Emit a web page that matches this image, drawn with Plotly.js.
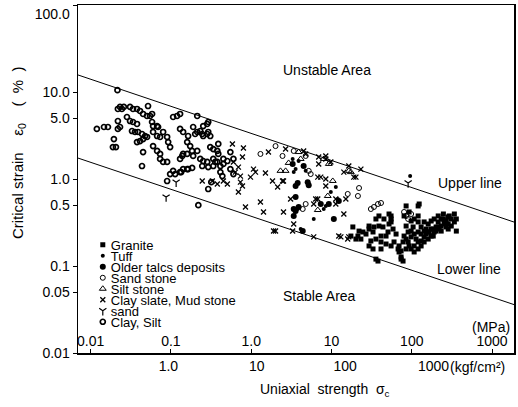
<!DOCTYPE html>
<html><head><meta charset="utf-8">
<script src="https://cdn.plot.ly/plotly-3.0.1.min.js"></script>
<style>html,body{margin:0;padding:0;background:#fff}#chart{width:518px;height:407px}</style>
</head><body><div id="chart"></div>
<script>
// ---- data (uniaxial strength in MPa, critical strain in %) ----
const KGF_PER_MPA = 10.197;

const graniteSigma = [11.4,13.7,14.8,14.1,15.6,18.3,20.3,20.8,21.9,23.7,21.9,25.0,21.9,23.1,28.5,30.0,30.8,32.5,30.8,35.1,39.0,40.0,42.2,44.4,40.0,44.4,45.6,48.1,50.7,54.8,48.1,54.8,59.3,65.8,65.8,48.1,27.0,32.5,23.7,19.2,25.0,32.5,42.2,65.8,71.1,76.9,85.5,92.4,100,111,120,130,144,156,169,178,169,144,127,111,92.4,85.5,76.9,71.1,65.8,59.3,54.8,52.0,50.7,65.8,76.9,85.5,92.4,100,67.6,54.8,59.3,71.1,59.3,65.8,111,127,148,81.1,87.7,97.5,105,114,137,76.9,120,130,178,18.3,20.3,26.3,32.5,45.6,52.0,42.2,18.3,25.0,81.1,97.5,105,120,137,156,144,62.4,71.1,57.7,48.1,37.0,28.5,34.2,16.9,12.0,13.0];
const graniteStrain = [0.221,0.221,0.204,0.252,0.246,0.288,0.246,0.281,0.347,0.376,0.204,0.189,0.120,0.114,0.221,0.246,0.304,0.347,0.396,0.189,0.157,0.145,0.127,0.114,0.170,0.189,0.221,0.204,0.246,0.252,0.288,0.329,0.347,0.376,0.490,0.490,0.347,0.321,0.288,0.194,0.157,0.170,0.149,0.246,0.233,0.252,0.246,0.266,0.246,0.281,0.288,0.304,0.304,0.288,0.321,0.347,0.396,0.366,0.347,0.321,0.221,0.204,0.189,0.170,0.157,0.145,0.157,0.170,0.189,0.321,0.321,0.304,0.329,0.347,0.516,0.216,0.233,0.281,0.170,0.189,0.376,0.396,0.376,0.266,0.246,0.266,0.281,0.266,0.281,0.216,0.347,0.329,0.252,0.170,0.157,0.281,0.376,0.376,0.418,0.120,0.266,0.221,0.233,0.221,0.252,0.252,0.329,0.347,0.266,0.204,0.194,0.281,0.157,0.233,0.179,0.266,0.233,0.281,0.204];

const tuffSigma  = [2.50,2.92,3.25,2.70,3.51,2.57,6.76,8.11,2.85,4.33,5.62,5.93,53.4,3.08,7.70];
const tuffStrain = [1.70,1.61,1.41,1.30,1.24,1.20,0.71,0.589,0.452,0.347,0.452,0.49,1.08,0.266,0.81];

const talcSigma  = [3.70,3.80,2.70,2.85,8.32,2.70,2.57,2.92,7.31,6.41,5.20,3.25,2.57,2.70,2.50,3.33];
const talcStrain = [0.92,0.85,0.83,0.90,0.56,0.43,0.376,0.477,0.347,0.516,0.516,0.252,0.452,0.62,1.49,1.41];

const sandstoneSigma  = [1.08,1.60,1.92,2.57,3.51,3.80,4.00,10.5,13.7,14.1,3.25,3.51,19.2,20.8,23.1,25.0,45.6,48.1,50.7,54.8];
const sandstoneStrain = [1.94,2.39,1.84,2.10,1.84,1.24,1.14,0.673,0.638,0.788,0.452,0.516,0.452,0.477,0.516,0.530,0.418,0.376,0.347,0.396];

const siltstoneSigma  = [2.92,5.62,6.41,11.4,7.11,6.24,4.81,1.82,2.08,2.25,3.08,10.8];
const siltstoneStrain = [2.04,1.70,1.49,1.20,0.95,0.638,0.44,1.24,1.24,1.53,1.70,1.24];

const claySlateSigma  = [0.520,0.693,0.676,0.534,0.608,0.562,0.641,0.237,0.308,0.351,0.411,0.456,0.641,0.676,0.833,0.608,0.901,0.949,1.08,1.23,1.33,1.48,1.69,1.92,0.731,1.17,1.60,2.57,4.33,8.78,4.81,7.70,9.49,5.93,4.93,9.49,12.3,3.33,3.51,4.93,5.93,6.76,13.0,10.8,14.8,4.81,5.20,5.93,1.97,2.37,4.56,10.0,7.70,4.33,1.97,2.50,8.32,10.8,1.52,10.5,2.08,5.93];
const claySlateStrain = [2.53,2.27,1.79,1.57,1.37,1.20,1.08,0.948,0.948,0.876,0.948,0.876,0.92,0.83,1.05,0.71,1.30,1.20,0.544,1.17,2.04,0.948,0.81,0.948,0.477,0.418,0.252,0.304,0.216,0.216,0.589,0.589,0.396,1.0,1.79,1.20,1.05,2.10,1.94,1.49,1.70,1.57,1.05,1.41,1.30,1.05,1.05,0.83,0.948,0.589,0.589,0.589,0.516,0.516,0.418,0.252,0.221,0.216,0.252,0.204,2.21,1.84];

const sandSigma  = [0.120,0.0924,50.7];
const sandStrain = [0.92,0.62,0.90];

const claySiltSigma  = [0.026,0.0152,0.0183,0.0203,0.0231,0.0250,0.0237,0.0263,0.0278,0.0292,0.0307,0.0263,0.0263,0.0278,0.0361,0.039,0.0433,0.0468,0.0333,0.0361,0.039,0.0433,0.038,0.0411,0.0444,0.0493,0.0534,0.0433,0.0468,0.0507,0.0562,0.0577,0.0507,0.0562,0.0608,0.0641,0.0641,0.0658,0.0731,0.075,0.0658,0.0731,0.079,0.0507,0.0493,0.0658,0.0731,0.079,0.0855,0.0949,0.0975,0.1026,0.079,0.0855,0.0949,0.111,0.123,0.133,0.144,0.141,0.144,0.133,0.1026,0.111,0.133,0.160,0.182,0.0949,0.160,0.173,0.182,0.160,0.187,0.208,0.187,0.208,0.225,0.237,0.243,0.270,0.277,0.292,0.270,0.277,0.225,0.243,0.270,0.292,0.316,0.351,0.360,0.277,0.316,0.351,0.380,0.411,0.214,0.360,0.493,0.534,0.411,0.456,0.117,0.137,0.277,0.300,0.197,0.243,0.208,0.316,0.333,0.380,0.40,0.237,0.144,0.164,0.493,0.534,0.164,0.133];
const claySiltStrain = [10.5,3.76,3.96,3.96,2.33,2.33,2.88,6.38,6.73,6.38,6.73,4.64,3.76,3.96,6.73,6.38,6.38,6.05,5.16,4.64,4.52,4.29,3.56,3.47,3.47,3.29,3.12,2.66,2.73,2.88,3.04,6.9,5.59,5.3,5.3,5.59,4.52,4.06,4.06,3.96,3.47,3.12,3.04,2.04,1.41,2.39,2.10,1.94,3.47,3.04,2.66,2.33,1.70,1.57,1.57,5.16,5.3,3.76,3.47,1.84,1.94,1.70,1.14,1.24,1.20,1.30,1.34,0.948,2.66,2.39,2.10,1.94,1.84,5.3,3.96,3.47,3.56,3.29,3.12,3.29,3.47,3.12,4.29,4.52,1.70,1.61,1.57,2.33,2.21,2.10,1.94,1.37,1.41,1.57,1.41,1.49,0.50,2.53,1.30,1.14,1.70,1.61,1.14,1.20,0.767,0.92,3.29,4.06,2.10,1.70,1.57,1.20,1.08,1.41,1.30,1.30,2.04,1.70,3.12,5.59];

// boundary lines (end points)
const lineSigma   = [0.0093, 800];
const upperStrain = [15.7, 0.32];
const lowerStrain = [1.74, 0.036];

// tick labels
const strainTicks    = [100, 10, 5, 1, 0.5, 0.1, 0.05, 0.01];
const strainTickText = ['<br>100.0','10.0','5.0','1.0','0.5','0.1','0.05','0.01'];
const kgfTicks       = [1, 10, 100, 1000];
const kgfTickText    = ['1.0','10','100','1000'];
const mpaTicks       = [0.01, 0.1, 1, 10, 100, 1000];
const mpaTickText    = ['0.01','0.1','1.0','10','100','1000'];

const seriesNames = ['Granite','Tuff','Older talcs deposits','Sand stone','Silt stone','Clay slate, Mud stone','sand','Clay, Silt'];

// ---- chart ----
const FONT = '"Liberation Sans", Arial, sans-serif';
const BLACK = '#000';
function pts(name, xs, ys, marker){
  return {type:'scatter', mode:'markers', name, x:xs, y:ys, xaxis:'x', yaxis:'y',
          marker:Object.assign({color:BLACK}, marker), cliponaxis:true};
}
const data = [
  pts(seriesNames[0], graniteSigma, graniteStrain, {symbol:'square', size:5}),
  pts(seriesNames[1], tuffSigma, tuffStrain, {symbol:'circle', size:4}),
  pts(seriesNames[2], talcSigma, talcStrain, {symbol:'circle', size:6}),
  pts(seriesNames[3], sandstoneSigma, sandstoneStrain, {symbol:'circle-open', size:5, line:{width:1, color:BLACK}}),
  pts(seriesNames[4], siltstoneSigma, siltstoneStrain, {symbol:'triangle-up-open', size:6, line:{width:1, color:BLACK}}),
  pts(seriesNames[5], claySlateSigma, claySlateStrain, {symbol:'x-thin-open', size:5, line:{width:1.3, color:BLACK}}),
  pts(seriesNames[6], sandSigma, sandStrain, {symbol:'y-down-open', size:6, line:{width:1.2, color:BLACK}}),
  pts(seriesNames[7], claySiltSigma, claySiltStrain, {symbol:'circle-open', size:5, line:{width:1.7, color:BLACK}}),
  {type:'scatter', mode:'lines', x:lineSigma, y:upperStrain, line:{color:BLACK, width:1}, showlegend:false, hoverinfo:'skip'},
  {type:'scatter', mode:'lines', x:lineSigma, y:lowerStrain, line:{color:BLACK, width:1}, showlegend:false, hoverinfo:'skip'},
  {type:'scatter', mode:'markers', x:[], y:[], xaxis:'x2', yaxis:'y', showlegend:false}
];

const ann = (text, x, y, extra) => Object.assign({text, x, y, xref:'paper', yref:'paper', showarrow:false,
  xanchor:'center', yanchor:'middle', font:{family:FONT, size:14, color:BLACK}}, extra || {});

const layout = {
  width:518, height:407,
  margin:{l:78, r:4, t:5, b:54, pad:0},
  paper_bgcolor:'#fff', plot_bgcolor:'#fff',
  font:{family:FONT, size:14, color:BLACK},
  showlegend:true,
  legend:{x:0.011, y:0.354, xanchor:'left', yanchor:'top', bgcolor:'rgba(0,0,0,0)', borderwidth:0,
          font:{family:FONT, size:13, color:BLACK}, tracegroupgap:0},
  xaxis:{type:'log', range:[Math.log10(lineSigma[0]), Math.log10(lineSigma[1])],
         tickvals:kgfTicks.map(v => v / KGF_PER_MPA), ticktext:kgfTickText, ticks:'',
         showline:true, mirror:true, linecolor:BLACK, linewidth:1.5, showgrid:false, zeroline:false,
         tickfont:{family:FONT, size:14, color:BLACK}},
  xaxis2:{type:'log', overlaying:'x', anchor:'y', side:'bottom', range:[-2.157, 3.273],
          tickvals:mpaTicks, ticktext:mpaTickText, ticks:'inside', ticklen:4, tickcolor:BLACK, tickwidth:1,
          ticklabelposition:'inside', ticklabeloverflow:'allow', showline:false, showgrid:false, zeroline:false,
          tickfont:{family:FONT, size:14, color:BLACK}},
  yaxis:{type:'log', range:[-2, 2], tickvals:strainTicks, ticktext:strainTickText, ticklabeloverflow:'allow',
         ticks:'outside', ticklen:4, tickcolor:BLACK, showline:true, mirror:true, linecolor:BLACK, linewidth:1.5,
         showgrid:false, zeroline:false, tickfont:{family:FONT, size:14, color:BLACK}},
  annotations:[
    ann('Unstable Area', 0.571, 0.813),
    ann('Stable Area', 0.553, 0.164),
    ann('Upper line', 0.899, 0.489),
    ann('Lower line', 0.897, 0.241),
    ann('(MPa)', 0.995, 0.074, {xanchor:'right'}),
    ann('(kgf/cm²)', 0.849, -0.040, {xanchor:'left'}),
    ann('Uniaxial&nbsp;&nbsp;strength&nbsp;&nbsp;σ<sub>c</sub>', 0.567, -0.106),
    ann('Critical strain&nbsp;&nbsp;&nbsp;&nbsp;ε<sub>0</sub>&nbsp;&nbsp;&nbsp;&nbsp;(&nbsp;&nbsp;%&nbsp;&nbsp;)', -0.135, 0.575,
        {textangle:-90, font:{family:FONT, size:15, color:BLACK}})
  ]
};

const gd = document.getElementById('chart');
Plotly.newPlot(gd, data, layout, {staticPlot:true, displayModeBar:false}).then(() => {
  // tighten legend rows to match the compact typed legend of the original
  const items = gd.querySelectorAll('.legend .traces');
  let y0 = null;
  items.forEach((g, i) => {
    const m = /translate\(\s*([-\d.]+)[ ,]+([-\d.]+)\s*\)/.exec(g.getAttribute('transform') || '');
    const x = m ? parseFloat(m[1]) : 0;
    const y = m ? parseFloat(m[2]) : 0;
    if (y0 === null) y0 = y;
    g.setAttribute('transform', 'translate(' + x + ',' + (y0 + i * 11) + ')');
    const t = g.querySelector('text.legendtext');
    if (t) t.setAttribute('x', 28);
  });
});
</script>
</body></html>
